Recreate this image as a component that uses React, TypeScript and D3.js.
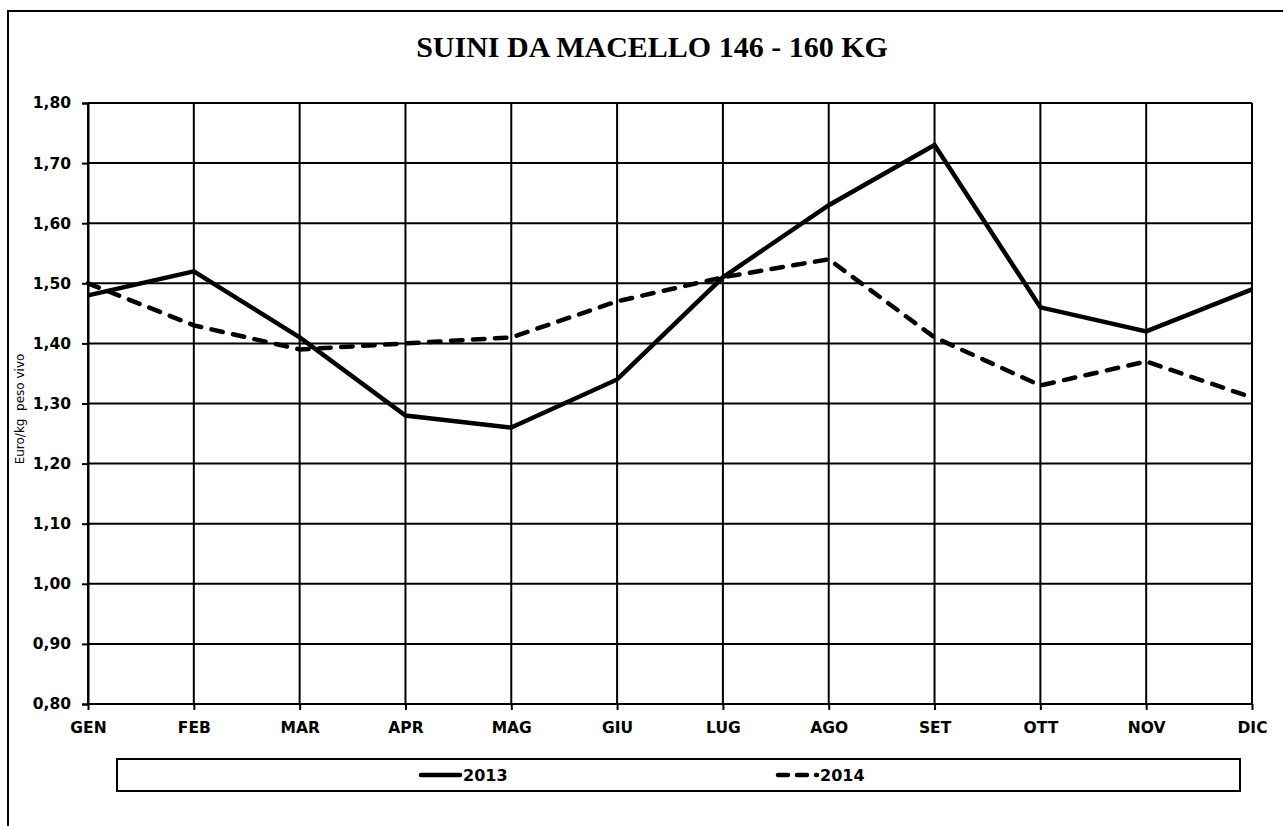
import React, { useRef, useEffect } from "react";
import * as d3 from "d3";

const months = ["GEN", "FEB", "MAR", "APR", "MAG", "GIU", "LUG", "AGO", "SET", "OTT", "NOV", "DIC"];
const values2013 = [1.48, 1.52, 1.41, 1.28, 1.26, 1.34, 1.51, 1.63, 1.73, 1.46, 1.42, 1.49];
const values2014 = [1.5, 1.43, 1.39, 1.4, 1.41, 1.47, 1.51, 1.54, 1.41, 1.33, 1.37, 1.31];
const yTicks = [0.8, 0.9, 1.0, 1.1, 1.2, 1.3, 1.4, 1.5, 1.6, 1.7, 1.8];

const App = () => {
  const svgRef = useRef<SVGSVGElement>(null);

  useEffect(() => {
    const svg = d3.select(svgRef.current);
    svg.selectAll("*").remove();

    const width = 1283;
    const height = 826;
    const margin = { top: 103, right: 31, bottom: 122, left: 88 };
    const font = "'DejaVu Sans', Verdana, sans-serif";

    // cornice esterna
    svg
      .append("rect")
      .attr("x", 8)
      .attr("y", 11)
      .attr("width", 1290)
      .attr("height", 830)
      .attr("fill", "white")
      .attr("stroke", "black")
      .attr("stroke-width", 2);

    // titolo
    svg
      .append("text")
      .attr("x", 652)
      .attr("y", 57)
      .attr("text-anchor", "middle")
      .style("font-family", "'Liberation Serif', 'Times New Roman', serif")
      .style("font-weight", "bold")
      .style("font-size", "30px")
      .text("SUINI DA MACELLO 146 - 160 KG");

    const x = d3
      .scalePoint()
      .domain(months)
      .range([margin.left, width - margin.right]);

    const y = d3
      .scaleLinear()
      .domain([0.8, 1.8])
      .range([height - margin.bottom, margin.top]);

    // griglia orizzontale
    svg
      .append("g")
      .selectAll("line")
      .data(yTicks)
      .join("line")
      .attr("x1", margin.left)
      .attr("x2", width - margin.right)
      .attr("y1", (d) => y(d))
      .attr("y2", (d) => y(d))
      .attr("stroke", "black")
      .attr("stroke-width", 2);

    // griglia verticale
    svg
      .append("g")
      .selectAll("line")
      .data(months)
      .join("line")
      .attr("x1", (d) => x(d))
      .attr("x2", (d) => x(d))
      .attr("y1", margin.top)
      .attr("y2", height - margin.bottom)
      .attr("stroke", "black")
      .attr("stroke-width", 2);

    const fmt = (v: number) => v.toFixed(2).replace(".", ",");

    // asse y
    const yAxis = svg
      .append("g")
      .attr("transform", `translate(${margin.left},0)`)
      .call(d3.axisLeft(y).tickValues(yTicks).tickFormat((d) => fmt(+d)).tickSize(6).tickPadding(11));
    yAxis.select(".domain").attr("stroke-width", 2);
    yAxis.selectAll(".tick line").attr("stroke-width", 2);
    yAxis
      .selectAll("text")
      .style("font-family", font)
      .style("font-weight", "bold")
      .style("font-size", "15.5px")
      .attr("fill", "black");

    // asse x
    const xAxis = svg
      .append("g")
      .attr("transform", `translate(0,${height - margin.bottom})`)
      .call(d3.axisBottom(x).tickSize(6).tickPadding(12));
    xAxis.select(".domain").remove();
    xAxis.selectAll(".tick line").attr("stroke-width", 2);
    xAxis
      .selectAll("text")
      .style("font-family", font)
      .style("font-weight", "bold")
      .style("font-size", "15.5px")
      .attr("fill", "black");

    // titolo asse y
    svg
      .append("text")
      .attr("transform", "translate(24,409) rotate(-90)")
      .attr("text-anchor", "middle")
      .attr("xml:space", "preserve")
      .style("font-family", font)
      .style("font-size", "12px")
      .text("Euro/kg  peso vivo");

    const line = d3
      .line<number>()
      .x((d, i) => x(months[i]) as number)
      .y((d) => y(d));

    svg
      .append("path")
      .datum(values2014)
      .attr("fill", "none")
      .attr("stroke", "black")
      .attr("stroke-width", 4.5)
      .attr("stroke-linecap", "round")
      .attr("stroke-dasharray", "11.5,10.5")
      .attr("d", line);

    svg
      .append("path")
      .datum(values2013)
      .attr("fill", "none")
      .attr("stroke", "black")
      .attr("stroke-width", 4.5)
      .attr("stroke-linejoin", "miter")
      .attr("d", line);

    // legenda
    svg
      .append("rect")
      .attr("x", 117)
      .attr("y", 759)
      .attr("width", 1123)
      .attr("height", 32)
      .attr("fill", "white")
      .attr("stroke", "black")
      .attr("stroke-width", 2);

    const legend = [
      { label: "2013", x1: 421, x2: 460, dash: null },
      { label: "2014", x1: 778, x2: 817, dash: "10,9" },
    ];
    legend.forEach((l) => {
      svg
        .append("line")
        .attr("x1", l.x1)
        .attr("x2", l.x2)
        .attr("y1", 775)
        .attr("y2", 775)
        .attr("stroke", "black")
        .attr("stroke-width", 4.5)
        .attr("stroke-linecap", "round")
        .attr("stroke-dasharray", l.dash);
      svg
        .append("text")
        .attr("x", l.x2 + 3)
        .attr("y", 781)
        .style("font-family", font)
        .style("font-weight", "bold")
        .style("font-size", "16px")
        .text(l.label);
    });
  }, []);

  return <svg ref={svgRef} width={1283} height={826} style={{ position: "absolute", left: 0, top: 0 }}></svg>;
};

export default App;
